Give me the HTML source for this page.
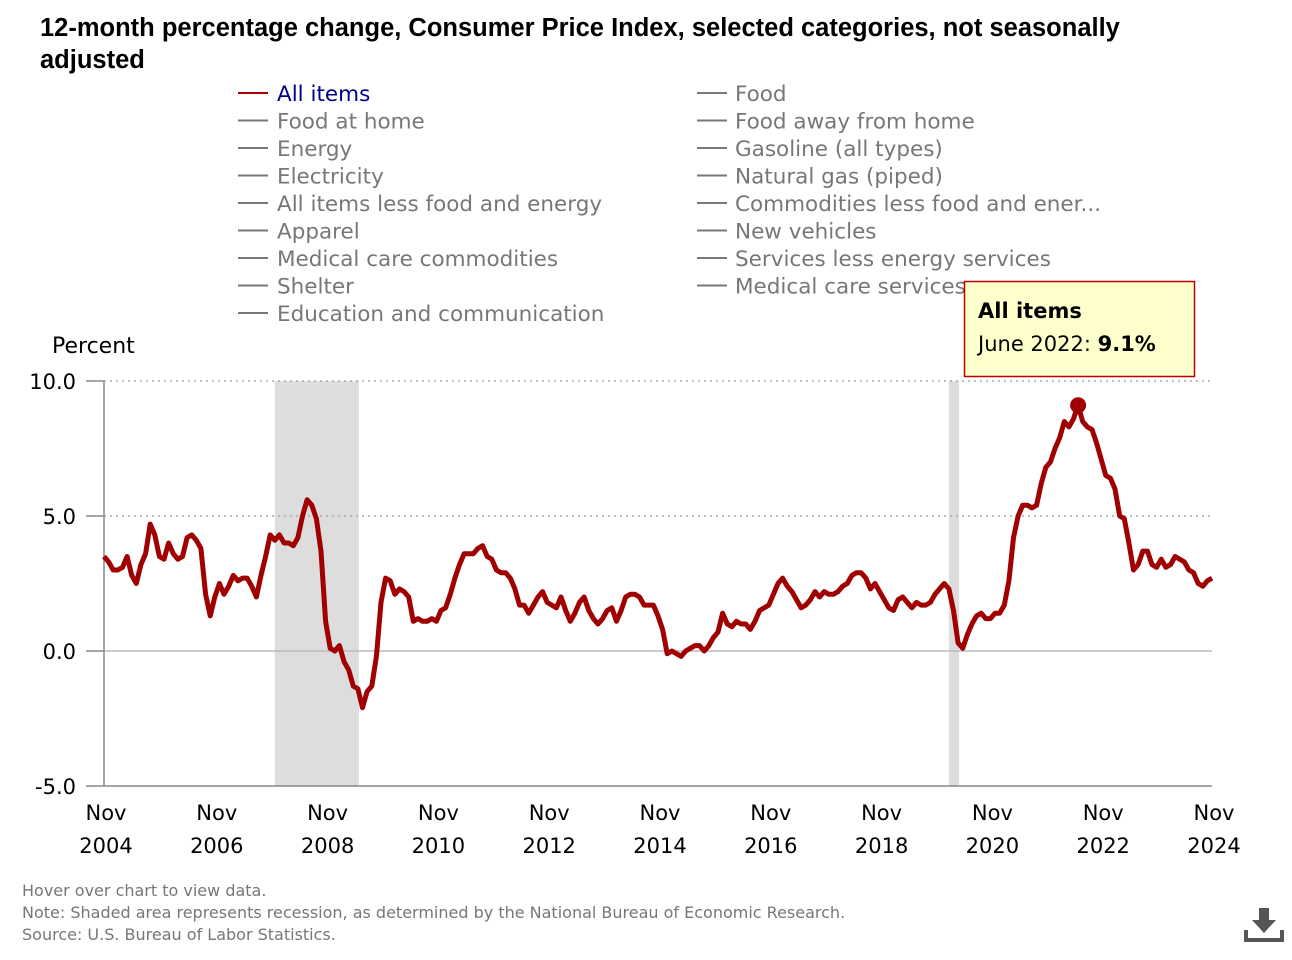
<!DOCTYPE html>
<html><head><meta charset="utf-8"><style>
body{margin:0;background:#fff;font-family:"DejaVu Sans",sans-serif;}
svg{display:block}
svg text{font-family:"DejaVu Sans",sans-serif;}
svg text.title{font-family:"Liberation Sans",sans-serif;}
</style></head><body>
<svg width="1292" height="960" xmlns="http://www.w3.org/2000/svg" id="chart">
<text class="title" x="40" y="36" font-size="25.5" font-weight="bold" fill="#000">12-month percentage change, Consumer Price Index, selected categories, not seasonally</text>
<text class="title" x="40" y="68" font-size="25.5" font-weight="bold" fill="#000">adjusted</text>
<g id="legend"></g>
<text x="52" y="353" font-size="22" fill="#000">Percent</text>
<g id="plot"></g>
<text x="22" y="896" font-size="16" fill="#777">Hover over chart to view data.</text>
<text x="22" y="918" font-size="16" fill="#777">Note: Shaded area represents recession, as determined by the National Bureau of Economic Research.</text>
<text x="22" y="940" font-size="16" fill="#777">Source: U.S. Bureau of Labor Statistics.</text>
<g fill="#555">
<rect x="1259" y="908" width="10" height="14"/><polygon points="1252,920 1276,920 1264,933"/>
<rect x="1244" y="938" width="40" height="4"/><rect x="1244" y="930" width="4" height="10"/><rect x="1280" y="930" width="4" height="10"/>
</g>
</svg>
<script>
const legendLeft=["All items","Food at home","Energy","Electricity","All items less food and energy","Apparel","Medical care commodities","Shelter","Education and communication"];
const legendRight=["Food","Food away from home","Gasoline (all types)","Natural gas (piped)","Commodities less food and ener...","New vehicles","Services less energy services","Medical care services"];
const yTicks=[10,5,0,-5];
const yTickLabels=["10.0","5.0","0.0","-5.0"];
const xTickYears=["2004","2006","2008","2010","2012","2014","2016","2018","2020","2022","2024"];
const recessions=[[37,55],[183,185]]; // month index from Nov 2004
const cpi=[3.5,3.3,
3.0,3.0,3.1,3.5,2.8,2.5,3.2,3.6,4.7,4.3,3.5,3.4,
4.0,3.6,3.4,3.5,4.2,4.3,4.1,3.8,2.1,1.3,2.0,2.5,
2.1,2.4,2.8,2.6,2.7,2.7,2.4,2.0,2.8,3.5,4.3,4.1,
4.3,4.0,4.0,3.9,4.2,5.0,5.6,5.4,4.9,3.7,1.1,0.1,
0.0,0.2,-0.4,-0.7,-1.3,-1.4,-2.1,-1.5,-1.3,-0.2,1.8,2.7,
2.6,2.1,2.3,2.2,2.0,1.1,1.2,1.1,1.1,1.2,1.1,1.5,
1.6,2.1,2.7,3.2,3.6,3.6,3.6,3.8,3.9,3.5,3.4,3.0,
2.9,2.9,2.7,2.3,1.7,1.7,1.4,1.7,2.0,2.2,1.8,1.7,
1.6,2.0,1.5,1.1,1.4,1.8,2.0,1.5,1.2,1.0,1.2,1.5,
1.6,1.1,1.5,2.0,2.1,2.1,2.0,1.7,1.7,1.7,1.3,0.8,
-0.1,0.0,-0.1,-0.2,0.0,0.1,0.2,0.2,0.0,0.2,0.5,0.7,
1.4,1.0,0.9,1.1,1.0,1.0,0.8,1.1,1.5,1.6,1.7,2.1,
2.5,2.7,2.4,2.2,1.9,1.6,1.7,1.9,2.2,2.0,2.2,2.1,
2.1,2.2,2.4,2.5,2.8,2.9,2.9,2.7,2.3,2.5,2.2,1.9,
1.6,1.5,1.9,2.0,1.8,1.6,1.8,1.7,1.7,1.8,2.1,2.3,
2.5,2.3,1.5,0.3,0.1,0.6,1.0,1.3,1.4,1.2,1.2,1.4,
1.4,1.7,2.6,4.2,5.0,5.4,5.4,5.3,5.4,6.2,6.8,7.0,
7.5,7.9,8.5,8.3,8.6,9.1,8.5,8.3,8.2,7.7,7.1,6.5,
6.4,6.0,5.0,4.9,4.0,3.0,3.2,3.7,3.7,3.2,3.1,3.4,
3.1,3.2,3.5,3.4,3.3,3.0,2.9,2.5,2.4,2.6,2.7];
const highlightIndex=211;
const NS="http://www.w3.org/2000/svg";
const X0=104,X1=1212,Y0=651,PU=27;
const xs=i=>X0+i*(X1-X0)/240;
const ys=v=>Y0-v*PU;
function mk(tag,attrs,parent,text){const e=document.createElementNS(NS,tag);for(const k in attrs)e.setAttribute(k,attrs[k]);if(text!==undefined)e.textContent=text;parent.appendChild(e);return e;}
const lg=document.getElementById('legend');
legendLeft.forEach((t,i)=>{const y=93+i*27.5;const g=mk('g',{},lg);


mk('line',{x1:238,x2:268,y1:y,y2:y,stroke:i==0?'#a00':'#777','stroke-width':2},g);
mk('text',{x:277,y:y+8,'font-size':21.5,fill:i==0?'#00008b':'#777'},g,t);});
legendRight.forEach((t,i)=>{const y=93+i*27.5;const g=mk('g',{},lg);


mk('line',{x1:697,x2:727,y1:y,y2:y,stroke:'#777','stroke-width':2},g);
mk('text',{x:735,y:y+8,'font-size':21.5,fill:'#777'},g,t);});
const p=document.getElementById('plot');
recessions.forEach(r=>{const e=mk('rect',{x:xs(r[0]),y:ys(10),width:xs(r[1])-xs(r[0])+1,height:ys(-5)-ys(10),fill:'#ddd'},p);

});
yTicks.forEach((v,i)=>{
 if(v==10||v==5){const l=mk('line',{x1:X0,x2:X1,y1:ys(v),y2:ys(v),stroke:'#aaa','stroke-dasharray':'2,4','stroke-width':1.5},p);}
 else if(v==0){const l=mk('line',{x1:X0,x2:X1,y1:ys(v),y2:ys(v),stroke:'#bbb','stroke-width':1.5},p);}
 mk('line',{x1:X0-18,x2:X0,y1:ys(v),y2:ys(v),stroke:'#888','stroke-width':1.5},p);
 const t=mk('text',{x:76,y:ys(v)+8,'font-size':21,'text-anchor':'end',fill:'#000'},p,yTickLabels[i]);
 
 
});
mk('line',{x1:X0,x2:X0,y1:ys(10),y2:ys(-5),stroke:'#888','stroke-width':1.5},p);
mk('line',{x1:X0,x2:X1,y1:ys(-5),y2:ys(-5),stroke:'#888','stroke-width':1.5},p);
xTickYears.forEach((yr,i)=>{const x=xs(i*24);
 const t1=mk('text',{x:x+2,y:820,'font-size':21,'text-anchor':'middle',fill:'#000'},p,'Nov');
 
 
 const t2=mk('text',{x:x+2,y:853,'font-size':21,'text-anchor':'middle',fill:'#000'},p,yr);
 
 });
const line=mk('path',{d:cpi.map((v,i)=>(i?'L':'M')+xs(i).toFixed(1)+','+ys(v).toFixed(1)).join(''),fill:'none',stroke:'#a00000','stroke-width':5,'stroke-linejoin':'round'},p);


const dot=mk('circle',{cx:xs(highlightIndex),cy:ys(cpi[highlightIndex]),r:8,fill:'#a00000'},p);


const tip=mk('g',{},p);


mk('rect',{x:964.5,y:281.5,width:230,height:95,fill:'#ffffcc',stroke:'#b00','stroke-width':1.5},tip);
mk('text',{x:978,y:318,'font-size':21,'font-weight':'bold',fill:'#000'},tip,'All items');
const tt=mk('text',{x:978,y:351,'font-size':21,fill:'#000'},tip,'June 2022: ');
const b=mk('tspan',{'font-weight':'bold'},tt,cpi[highlightIndex].toFixed(1)+'%');
</script>
</body></html>
